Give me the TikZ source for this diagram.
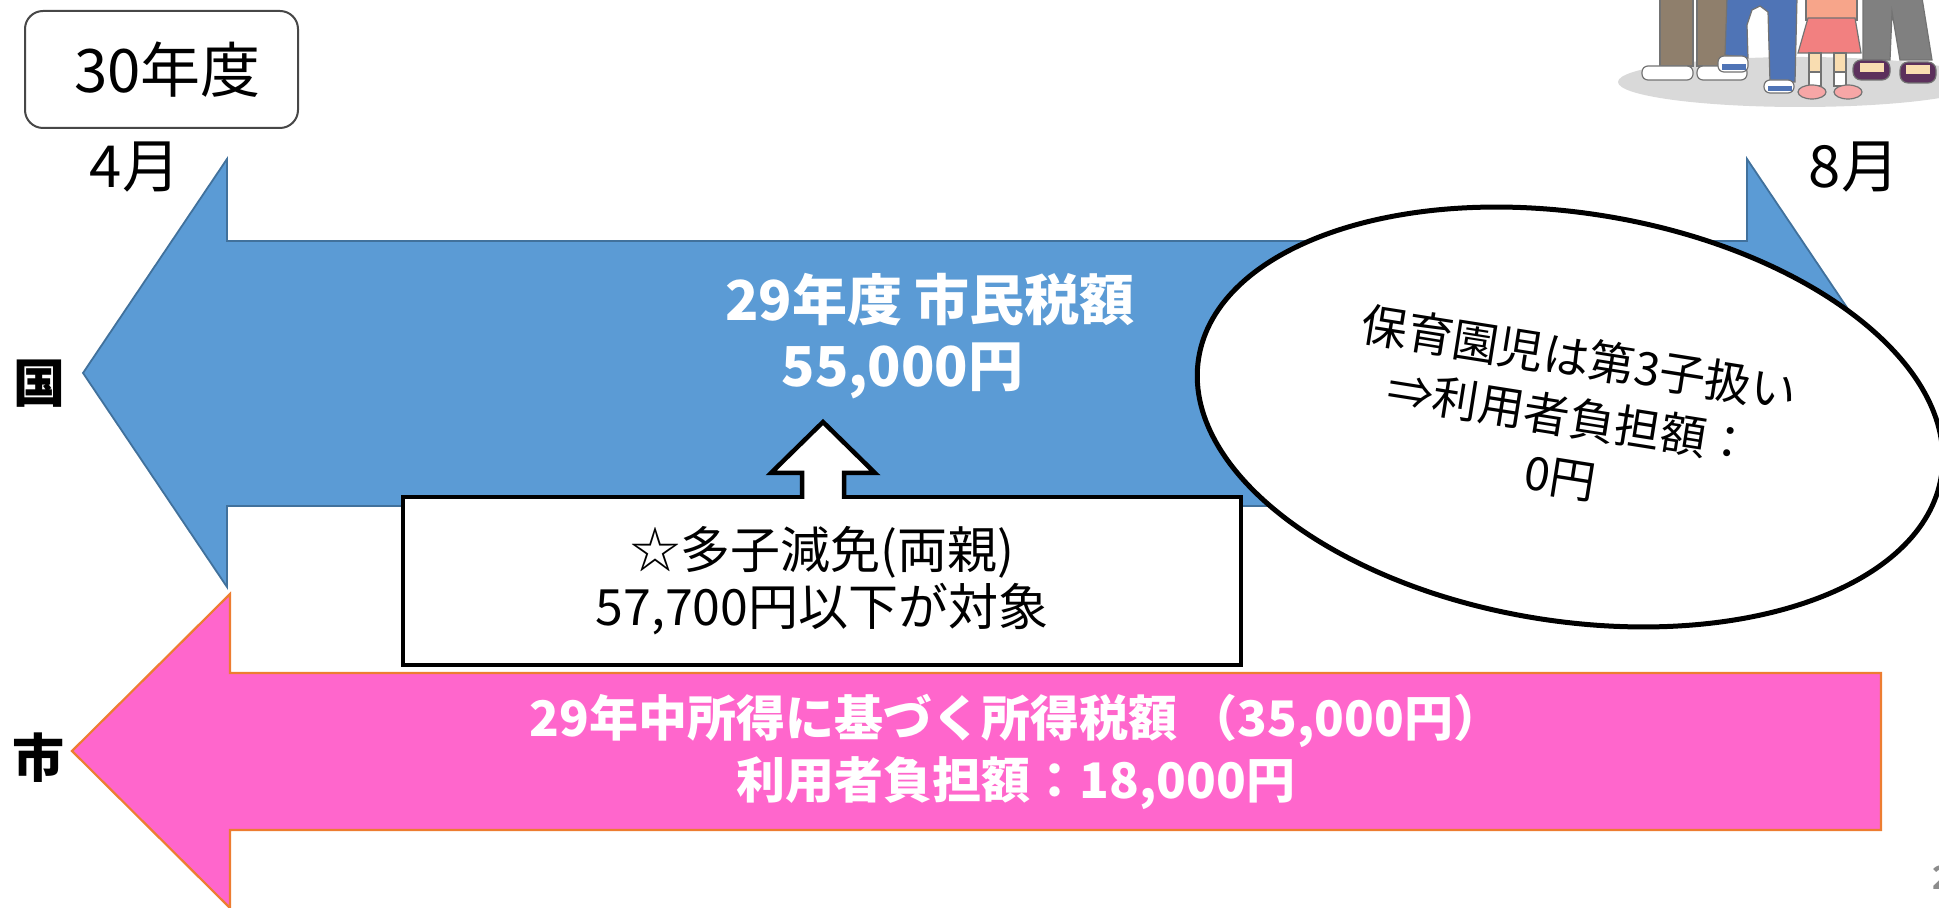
\documentclass[tikz,border=0pt]{standalone}
\usepackage{fontspec}
\setmainfont{Noto Sans CJK JP}
\usetikzlibrary{shapes.geometric}

\definecolor{kokuFill}{RGB}{91,155,213}
\definecolor{kokuLine}{RGB}{65,113,156}
\definecolor{shiFill}{RGB}{255,102,204}
\definecolor{shiLine}{RGB}{237,125,49}
\definecolor{trouserBrown}{RGB}{143,127,108}
\definecolor{jeansBlue}{RGB}{79,116,182}
\definecolor{shirtPeach}{RGB}{247,165,138}
\definecolor{skirtPink}{RGB}{242,128,128}
\definecolor{skin}{RGB}{249,221,177}
\definecolor{shoePurple}{RGB}{92,48,92}

\tikzset{
  yearbox/.style={draw=black!72, line width=1pt, rounded corners=9pt, fill=white,
    minimum width=136.5pt, minimum height=58.5pt, inner sep=0pt,
    font=\fontsize{30}{36}\selectfont},
  monthlabel/.style={inner sep=0pt, font=\fontsize{29}{34}\selectfont},
  sidelabel/.style={inner sep=0pt, font=\bfseries\fontsize{26}{30}\selectfont},
  kokutext/.style={inner sep=0pt, align=center, text=white,
    font=\bfseries\fontsize{27.5}{33}\selectfont},
  shitext/.style={inner sep=0pt, align=center, text=white,
    font=\bfseries\fontsize{24.5}{31}\selectfont},
  notebox/.style={draw, line width=2.25pt, fill=white, align=center,
    minimum width=419pt, minimum height=84pt, inner sep=0pt,
    font=\fontsize{25}{28.5}\selectfont},
  bubble/.style={ellipse, draw, line width=2.5pt, fill=white, align=center,
    minimum width=376pt, minimum height=204pt, inner sep=0pt,
    font=\fontsize{23}{30}\selectfont},
  outline/.style={draw=black!55, line width=0.6pt}
}

\begin{document}
\begin{tikzpicture}[x=0.5pt,y=0.5pt,yscale=-1]
\useasboundingbox (0,0) rectangle (1939,908);
\clip (0,0) rectangle (1939,908);

%Shape: Left-Right Arrow (national)
\draw [kokuLine, fill=kokuFill, line width=0.9pt]
  (83,373) -- (227,159) -- (227,241) -- (1747,241) -- (1747,159) -- (1891,373)
  -- (1747,587) -- (1747,506) -- (227,506) -- (227,587) -- cycle;
%Shape: Left Arrow (city)
\draw [shiLine, fill=shiFill, line width=1.1pt]
  (72,751) -- (230,594) -- (230,673) -- (1881,673) -- (1881,830) -- (230,830)
  -- (230,908) -- cycle;

%Family illustration
\fill [black!15] (1800,82) ellipse [x radius=182, y radius=25];
\draw [outline, fill=trouserBrown] (1660,-2) rectangle (1693,66);
\draw [outline, fill=trouserBrown] (1697,-2) rectangle (1727,66);
\draw [outline, fill=white, rounded corners=3pt] (1642,66) rectangle (1693,80);
\draw [outline, fill=white, rounded corners=3pt] (1697,66) rectangle (1747,80);
\draw [outline, fill=jeansBlue] (1727,-2) -- (1725,55) -- (1748,58) -- (1747,25)
  -- (1752,10) -- (1760,6) -- (1768,12) -- (1770,82) -- (1795,82) -- (1797,-2) -- cycle;
\draw [outline, fill=white, rounded corners=3pt] (1718,56) rectangle (1748,72);
\fill [jeansBlue] (1722,64) rectangle (1746,70);
\draw [outline, fill=white, rounded corners=3pt] (1764,80) rectangle (1794,93);
\fill [jeansBlue] (1768,86) rectangle (1792,91);
\draw [outline, fill=shirtPeach] (1806,-2) rectangle (1857,20);
\draw [outline, fill=skirtPink] (1808,18) -- (1855,18) -- (1861,53) -- (1798,53) -- cycle;
\draw [outline, fill=skin] (1809,53) rectangle (1821,72);
\draw [outline, fill=skin] (1834,53) rectangle (1846,72);
\draw [outline, fill=white] (1809,72) rectangle (1821,86);
\draw [outline, fill=white] (1834,72) rectangle (1846,86);
\draw [outline, fill=skirtPink!70] (1812,92) ellipse [x radius=14, y radius=7];
\draw [outline, fill=skirtPink!70] (1848,92) ellipse [x radius=14, y radius=7];
\draw [outline, fill=black!50] (1863,-2) -- (1863,60) -- (1890,60) -- (1892,12)
  -- (1900,60) -- (1932,60) -- (1922,-2) -- cycle;
\draw [outline, fill=shoePurple, rounded corners=4pt] (1853,60) rectangle (1890,80);
\fill [skin] (1860,63) rectangle (1884,72);
\draw [outline, fill=shoePurple, rounded corners=4pt] (1900,62) rectangle (1936,83);
\fill [skin] (1906,65) rectangle (1930,74);

% Text Node
\node (year) [yearbox] at (161.5,69.5) {\hspace*{6pt}30年度};
% Text Node
\node (april) [monthlabel] at (135,167) {4月};
% Text Node
\node (august) [monthlabel] at (1854,167) {8月};
% Text Node
\node (koku) [sidelabel] at (39,384) {国};
% Text Node
\node (shi) [sidelabel] at (38,758) {市};
% Text Node
\node (kokuTax) [kokutext] at (930,336) {29年度 市民税額\\55,000円\hspace*{1em}};
% Text Node
\node (shiTax) [shitext] at (1016,752) {29年中所得に基づく所得税額 （35,000円）\\利用者負担額：18,000円};

%Shape: Rectangle
\node (note) [notebox] at (822,581) {☆多子減免(両親)\\57,700円以下が対象};
%Shape: Up Arrow
\fill [white] (802,501) -- (802,473) -- (771,473) -- (823,422) -- (875,473)
  -- (844,473) -- (844,501) -- cycle;
\draw [line width=2.25pt, line join=miter]
  (802,499) -- (802,473) -- (771,473) -- (823,422) -- (875,473) -- (844,473) -- (844,499);

%Shape: Ellipse
\node (bubble) [bubble, rotate=-9] at (1570,417) {保育園児は第3子扱い\\⇒利用者負担額：\\0円};

% Text Node
\node (page) [anchor=west, inner sep=0pt, text=black!45,
  font=\bfseries\fontsize{16}{18}\selectfont] at (1932,878) {2};
\end{tikzpicture}
\end{document}
